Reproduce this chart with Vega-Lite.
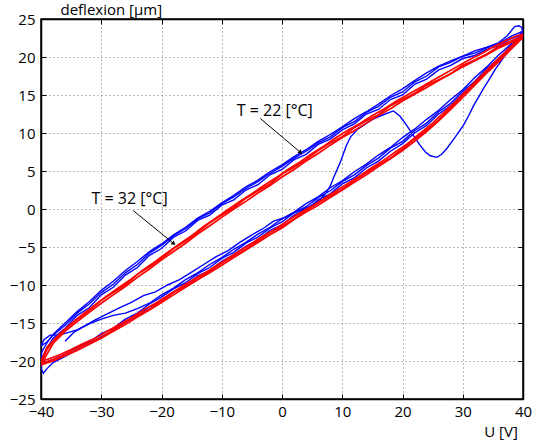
{
"$schema": "https://vega.github.io/schema/vega-lite/v6.json",
"width": 482, "height": 380,
"autosize": "none",
"padding": {"left": 41, "top": 19, "right": 13, "bottom": 47},
"background": "white",
"config": {
 "view": {"stroke": "black", "strokeWidth": 1.5},
 "font": "Open Sans",
 "axis": {"domainColor": "black", "domainWidth": 1.5, "tickColor": "black", "tickSize": -5, "tickWidth": 1,
  "labelFont": "Open Sans", "labelFontSize": 15, "labelColor": "black",
  "gridColor": "#777", "gridDash": [1, 3], "gridWidth": 1, "gridOpacity": 1,
  "titleFont": "Open Sans", "titleFontSize": 15, "titleFontWeight": "normal", "titleColor": "black"}
},
"datasets": {
"blue": [
{"t":"b1","x":-36,"y":-17.4},{"t":"b1","x":-34.5,"y":-16.2},{"t":"b1","x":-33,"y":-15.5},{"t":"b1","x":-31,"y":-14.6},{"t":"b1","x":-29,"y":-13.8},{"t":"b1","x":-27,"y":-13.0},{"t":"b1","x":-25,"y":-12.3},{"t":"b1","x":-23,"y":-11.4},{"t":"b1","x":-21,"y":-10.9},{"t":"b1","x":-19,"y":-10.0},{"t":"b1","x":-17,"y":-9.3},{"t":"b1","x":-15,"y":-8.3},{"t":"b1","x":-13,"y":-7.3},{"t":"b1","x":-11,"y":-6.3},{"t":"b1","x":-9,"y":-5.5},{"t":"b1","x":-7,"y":-4.4},{"t":"b1","x":-5,"y":-3.4},{"t":"b1","x":-3,"y":-2.5},{"t":"b1","x":-1.4,"y":-1.6},{"t":"b1","x":0.5,"y":-1.1},{"t":"b1","x":2,"y":-0.5},{"t":"b1","x":3.5,"y":-0.1},{"t":"b1","x":5,"y":0.5},{"t":"b1","x":6.3,"y":1.2},{"t":"b1","x":7.2,"y":2.0},{"t":"b1","x":8,"y":3.0},{"t":"b1","x":8.6,"y":4.2},{"t":"b1","x":9.1,"y":5.1},{"t":"b1","x":9.7,"y":6.2},{"t":"b1","x":10.2,"y":7.3},{"t":"b1","x":10.7,"y":8.4},{"t":"b1","x":11.4,"y":9.5},{"t":"b1","x":12.4,"y":10.4},{"t":"b1","x":13.5,"y":11.0},{"t":"b1","x":15,"y":11.8},{"t":"b1","x":16.8,"y":12.4},{"t":"b1","x":18.5,"y":12.9},{"t":"b1","x":19.6,"y":12.2},{"t":"b1","x":20.7,"y":11.0},{"t":"b1","x":21.8,"y":9.7},{"t":"b1","x":22.9,"y":8.4},{"t":"b1","x":23.8,"y":7.5},{"t":"b1","x":24.6,"y":7.0},{"t":"b1","x":25.7,"y":6.8},{"t":"b1","x":26.5,"y":7.2},{"t":"b1","x":27.3,"y":7.9},{"t":"b1","x":28.5,"y":9.2},{"t":"b1","x":29.4,"y":10.2},{"t":"b1","x":30.1,"y":11.0},{"t":"b1","x":31,"y":12.3},{"t":"b1","x":31.8,"y":13.6},{"t":"b1","x":32.6,"y":14.7},{"t":"b1","x":33.4,"y":15.8},{"t":"b1","x":34.5,"y":17.2},{"t":"b1","x":35.5,"y":18.5},{"t":"b1","x":36.4,"y":19.5},{"t":"b1","x":37.5,"y":20.8},{"t":"b1","x":38.6,"y":22.0},{"t":"b1","x":39.4,"y":22.8},{"t":"b1","x":39.9,"y":23.4},{"t":"b1","x":39.8,"y":23.9},{"t":"b1","x":39.3,"y":24.1},{"t":"b1","x":38.6,"y":24.0},{"t":"b1","x":38.1,"y":23.5},{"t":"b1","x":37.4,"y":22.8},{"t":"b1","x":36.6,"y":22.3},
{"t":"b1","x":36,"y":21.9},{"t":"b1","x":34,"y":21.3},{"t":"b1","x":32,"y":20.8},{"t":"b1","x":30,"y":20.1},{"t":"b1","x":28,"y":19.5},{"t":"b1","x":26,"y":18.8},{"t":"b1","x":24,"y":17.9},{"t":"b1","x":22,"y":16.9},{"t":"b1","x":20,"y":15.8},{"t":"b1","x":18,"y":14.9},{"t":"b1","x":16,"y":13.8},{"t":"b1","x":14,"y":12.8},{"t":"b1","x":12,"y":11.9},{"t":"b1","x":10,"y":10.8},{"t":"b1","x":8,"y":9.8},{"t":"b1","x":6,"y":8.9},{"t":"b1","x":4,"y":7.8},{"t":"b1","x":2,"y":6.9},{"t":"b1","x":0,"y":5.8},{"t":"b1","x":-2,"y":4.9},{"t":"b1","x":-4,"y":3.8},{"t":"b1","x":-6,"y":2.9},{"t":"b1","x":-8,"y":1.8},{"t":"b1","x":-10,"y":0.8},{"t":"b1","x":-12,"y":-0.3},{"t":"b1","x":-14,"y":-1.2},{"t":"b1","x":-16,"y":-2.4},{"t":"b1","x":-18,"y":-3.4},{"t":"b1","x":-20,"y":-4.6},{"t":"b1","x":-22,"y":-5.6},{"t":"b1","x":-24,"y":-6.9},{"t":"b1","x":-26,"y":-8.1},{"t":"b1","x":-28,"y":-9.5},{"t":"b1","x":-30,"y":-10.7},{"t":"b1","x":-32,"y":-12.2},{"t":"b1","x":-34,"y":-13.5},{"t":"b1","x":-36,"y":-15.0},{"t":"b1","x":-38,"y":-16.5},{"t":"b1","x":-39,"y":-17.6},{"t":"b1","x":-40,"y":-19.0},
{"t":"b1","x":-39.5,"y":-20.3},{"t":"b1","x":-38,"y":-19.8},{"t":"b1","x":-36,"y":-19.1},{"t":"b1","x":-34,"y":-18.2},{"t":"b1","x":-32,"y":-17.5},{"t":"b1","x":-30,"y":-16.4},{"t":"b1","x":-28,"y":-15.7},{"t":"b1","x":-26,"y":-14.5},{"t":"b1","x":-24,"y":-13.7},{"t":"b1","x":-22,"y":-12.5},{"t":"b1","x":-20,"y":-11.6},{"t":"b1","x":-18,"y":-10.5},{"t":"b1","x":-16,"y":-9.7},{"t":"b1","x":-14,"y":-8.5},{"t":"b1","x":-12,"y":-7.7},{"t":"b1","x":-10,"y":-6.5},{"t":"b1","x":-8,"y":-5.7},{"t":"b1","x":-6,"y":-4.5},{"t":"b1","x":-4,"y":-3.7},{"t":"b1","x":-2,"y":-2.5},{"t":"b1","x":0,"y":-1.7},{"t":"b1","x":2,"y":-0.5},{"t":"b1","x":4,"y":0.3},{"t":"b1","x":6,"y":1.5},{"t":"b1","x":8,"y":2.4},{"t":"b1","x":10,"y":3.6},{"t":"b1","x":12,"y":4.5},{"t":"b1","x":14,"y":5.7},{"t":"b1","x":16,"y":6.7},{"t":"b1","x":18,"y":8.0},{"t":"b1","x":20,"y":8.9},{"t":"b1","x":22,"y":10.3},{"t":"b1","x":24,"y":11.3},{"t":"b1","x":26,"y":12.8},{"t":"b1","x":28,"y":13.9},{"t":"b1","x":30,"y":15.5},{"t":"b1","x":32,"y":16.8},{"t":"b1","x":34,"y":18.5},{"t":"b1","x":36,"y":19.8},{"t":"b1","x":38,"y":21.5},{"t":"b1","x":40,"y":22.8},
{"t":"b2","x":40,"y":23.0},{"t":"b2","x":38,"y":22.4},{"t":"b2","x":36,"y":21.5},{"t":"b2","x":34,"y":21.0},{"t":"b2","x":32,"y":20.2},{"t":"b2","x":30,"y":19.8},{"t":"b2","x":28,"y":18.9},{"t":"b2","x":26,"y":18.3},{"t":"b2","x":24,"y":17.1},{"t":"b2","x":22,"y":16.4},{"t":"b2","x":20,"y":15.0},{"t":"b2","x":18,"y":14.4},{"t":"b2","x":16,"y":13.1},{"t":"b2","x":14,"y":12.5},{"t":"b2","x":12,"y":11.2},{"t":"b2","x":10,"y":10.4},{"t":"b2","x":8,"y":9.2},{"t":"b2","x":6,"y":8.5},{"t":"b2","x":4,"y":7.2},{"t":"b2","x":2,"y":6.5},{"t":"b2","x":0,"y":5.2},{"t":"b2","x":-2,"y":4.5},{"t":"b2","x":-4,"y":3.2},{"t":"b2","x":-6,"y":2.5},{"t":"b2","x":-8,"y":1.2},{"t":"b2","x":-10,"y":0.5},{"t":"b2","x":-12,"y":-0.8},{"t":"b2","x":-14,"y":-1.5},{"t":"b2","x":-16,"y":-2.9},{"t":"b2","x":-18,"y":-3.7},{"t":"b2","x":-20,"y":-5.2},{"t":"b2","x":-22,"y":-6.1},{"t":"b2","x":-24,"y":-7.7},{"t":"b2","x":-26,"y":-8.7},{"t":"b2","x":-28,"y":-10.3},{"t":"b2","x":-30,"y":-11.3},{"t":"b2","x":-32,"y":-13.0},{"t":"b2","x":-34,"y":-14.0},{"t":"b2","x":-36,"y":-15.7},{"t":"b2","x":-38,"y":-17.0},{"t":"b2","x":-39,"y":-18.3},{"t":"b2","x":-40,"y":-19.8},{"t":"b2","x":-40,"y":-21.0},{"t":"b2","x":-39.6,"y":-21.6},{"t":"b2","x":-39,"y":-21.0},
{"t":"b2","x":-38,"y":-20.2},{"t":"b2","x":-36,"y":-19.4},{"t":"b2","x":-34,"y":-18.5},{"t":"b2","x":-32,"y":-17.8},{"t":"b2","x":-30,"y":-16.8},{"t":"b2","x":-28,"y":-16.0},{"t":"b2","x":-26,"y":-14.9},{"t":"b2","x":-24,"y":-14.1},{"t":"b2","x":-22,"y":-12.9},{"t":"b2","x":-20,"y":-12.0},{"t":"b2","x":-18,"y":-10.9},{"t":"b2","x":-16,"y":-10.1},{"t":"b2","x":-14,"y":-8.8},{"t":"b2","x":-12,"y":-8.1},{"t":"b2","x":-10,"y":-6.9},{"t":"b2","x":-8,"y":-6.0},{"t":"b2","x":-6,"y":-4.9},{"t":"b2","x":-4,"y":-4.1},{"t":"b2","x":-2,"y":-2.8},{"t":"b2","x":0,"y":-2.1},{"t":"b2","x":2,"y":-0.8},{"t":"b2","x":4,"y":-0.1},{"t":"b2","x":6,"y":1.2},{"t":"b2","x":8,"y":2.0},{"t":"b2","x":10,"y":3.3},{"t":"b2","x":12,"y":4.1},{"t":"b2","x":14,"y":5.4},{"t":"b2","x":16,"y":6.3},{"t":"b2","x":18,"y":7.6},{"t":"b2","x":20,"y":8.6},{"t":"b2","x":22,"y":10.0},{"t":"b2","x":24,"y":11.0},{"t":"b2","x":26,"y":12.5},{"t":"b2","x":28,"y":13.6},{"t":"b2","x":30,"y":15.2},{"t":"b2","x":32,"y":16.5},{"t":"b2","x":34,"y":18.2},{"t":"b2","x":36,"y":19.5},{"t":"b2","x":38,"y":21.2},{"t":"b2","x":40,"y":22.6},
{"t":"b3","x":40,"y":23.4},{"t":"b3","x":38,"y":22.7},{"t":"b3","x":36,"y":21.8},{"t":"b3","x":34,"y":21.2},{"t":"b3","x":32,"y":20.5},{"t":"b3","x":30,"y":20.1},{"t":"b3","x":28,"y":19.3},{"t":"b3","x":26,"y":18.7},{"t":"b3","x":24,"y":17.5},{"t":"b3","x":22,"y":16.7},{"t":"b3","x":20,"y":15.4},{"t":"b3","x":18,"y":14.7},{"t":"b3","x":16,"y":13.5},{"t":"b3","x":14,"y":12.7},{"t":"b3","x":12,"y":11.5},{"t":"b3","x":10,"y":10.7},{"t":"b3","x":8,"y":9.5},{"t":"b3","x":6,"y":8.7},{"t":"b3","x":4,"y":7.6},{"t":"b3","x":2,"y":6.7},{"t":"b3","x":0,"y":5.6},{"t":"b3","x":-2,"y":4.7},{"t":"b3","x":-4,"y":3.6},{"t":"b3","x":-6,"y":2.7},{"t":"b3","x":-8,"y":1.6},{"t":"b3","x":-10,"y":0.7},{"t":"b3","x":-12,"y":-0.5},{"t":"b3","x":-14,"y":-1.3},{"t":"b3","x":-16,"y":-2.6},{"t":"b3","x":-18,"y":-3.5},{"t":"b3","x":-20,"y":-4.8},{"t":"b3","x":-22,"y":-5.8},{"t":"b3","x":-24,"y":-7.3},{"t":"b3","x":-26,"y":-8.4},{"t":"b3","x":-28,"y":-9.9},{"t":"b3","x":-30,"y":-11.0},{"t":"b3","x":-32,"y":-12.5},{"t":"b3","x":-34,"y":-13.7},{"t":"b3","x":-36,"y":-15.3},{"t":"b3","x":-38,"y":-16.6},{"t":"b3","x":-39,"y":-17.5},{"t":"b3","x":-40,"y":-18.0},
{"t":"b3","x":-39.5,"y":-17.2},{"t":"b3","x":-38.5,"y":-16.6},{"t":"b3","x":-37,"y":-16.6},{"t":"b3","x":-35.7,"y":-16.3},{"t":"b3","x":-34,"y":-15.9},{"t":"b3","x":-32,"y":-15.1},{"t":"b3","x":-30,"y":-14.5},{"t":"b3","x":-28,"y":-14.0},{"t":"b3","x":-26,"y":-13.7},{"t":"b3","x":-24,"y":-13.1},{"t":"b3","x":-22,"y":-12.4},{"t":"b3","x":-20,"y":-11.3},{"t":"b3","x":-18,"y":-10.4},{"t":"b3","x":-16,"y":-9.3},{"t":"b3","x":-14,"y":-8.4},{"t":"b3","x":-12,"y":-7.3},{"t":"b3","x":-10,"y":-6.4},{"t":"b3","x":-8,"y":-5.3},{"t":"b3","x":-6,"y":-4.4},{"t":"b3","x":-4,"y":-3.3},{"t":"b3","x":-2,"y":-2.4},{"t":"b3","x":0,"y":-1.3},{"t":"b3","x":2,"y":-0.4},{"t":"b3","x":4,"y":0.7},{"t":"b3","x":6,"y":1.6},{"t":"b3","x":8,"y":2.8},{"t":"b3","x":10,"y":3.7},{"t":"b3","x":12,"y":4.9},{"t":"b3","x":14,"y":5.9},{"t":"b3","x":16,"y":7.1},{"t":"b3","x":18,"y":8.1},{"t":"b3","x":20,"y":9.4},{"t":"b3","x":22,"y":10.5},{"t":"b3","x":24,"y":11.8},{"t":"b3","x":26,"y":13.0},{"t":"b3","x":28,"y":14.4},{"t":"b3","x":30,"y":15.7},{"t":"b3","x":32,"y":17.3},{"t":"b3","x":34,"y":18.7},{"t":"b3","x":36,"y":20.3},{"t":"b3","x":38,"y":21.7},{"t":"b3","x":40,"y":23.2}
],
"red": [
{"t":"r1","x":40,"y":22.8},{"t":"r1","x":38,"y":22.1},{"t":"r1","x":36,"y":21.4},{"t":"r1","x":34,"y":20.4},{"t":"r1","x":32,"y":19.6},{"t":"r1","x":30,"y":18.9},{"t":"r1","x":28,"y":17.8},{"t":"r1","x":26,"y":17.0},{"t":"r1","x":24,"y":16.3},{"t":"r1","x":22,"y":15.2},{"t":"r1","x":20,"y":14.4},{"t":"r1","x":18,"y":13.6},{"t":"r1","x":16,"y":12.4},{"t":"r1","x":14,"y":11.6},{"t":"r1","x":12,"y":10.7},{"t":"r1","x":10,"y":9.5},{"t":"r1","x":8,"y":8.7},{"t":"r1","x":6,"y":7.7},{"t":"r1","x":4,"y":6.5},{"t":"r1","x":2,"y":5.5},{"t":"r1","x":0,"y":4.6},{"t":"r1","x":-2,"y":3.3},{"t":"r1","x":-4,"y":2.4},{"t":"r1","x":-6,"y":1.4},{"t":"r1","x":-8,"y":0.2},{"t":"r1","x":-10,"y":-0.8},{"t":"r1","x":-12,"y":-1.8},{"t":"r1","x":-14,"y":-3.1},{"t":"r1","x":-16,"y":-4.2},{"t":"r1","x":-18,"y":-5.2},{"t":"r1","x":-20,"y":-6.5},{"t":"r1","x":-22,"y":-7.6},{"t":"r1","x":-24,"y":-8.6},{"t":"r1","x":-26,"y":-10.0},{"t":"r1","x":-28,"y":-11.0},{"t":"r1","x":-30,"y":-12.0},{"t":"r1","x":-32,"y":-13.4},{"t":"r1","x":-34,"y":-14.5},{"t":"r1","x":-36,"y":-15.8},{"t":"r1","x":-38,"y":-17.4},{"t":"r1","x":-39,"y":-18.5},{"t":"r1","x":-40,"y":-20.3},
{"t":"r1","x":-38,"y":-19.8},{"t":"r1","x":-36,"y":-19.1},{"t":"r1","x":-34,"y":-18.3},{"t":"r1","x":-32,"y":-17.6},{"t":"r1","x":-30,"y":-16.9},{"t":"r1","x":-28,"y":-15.9},{"t":"r1","x":-26,"y":-14.9},{"t":"r1","x":-24,"y":-14.0},{"t":"r1","x":-22,"y":-13.2},{"t":"r1","x":-20,"y":-12.1},{"t":"r1","x":-18,"y":-11.0},{"t":"r1","x":-16,"y":-10.1},{"t":"r1","x":-14,"y":-9.2},{"t":"r1","x":-12,"y":-8.2},{"t":"r1","x":-10,"y":-7.1},{"t":"r1","x":-8,"y":-6.2},{"t":"r1","x":-6,"y":-5.3},{"t":"r1","x":-4,"y":-4.2},{"t":"r1","x":-2,"y":-3.1},{"t":"r1","x":0,"y":-2.3},{"t":"r1","x":2,"y":-1.3},{"t":"r1","x":4,"y":-0.2},{"t":"r1","x":6,"y":0.8},{"t":"r1","x":8,"y":1.7},{"t":"r1","x":10,"y":2.6},{"t":"r1","x":12,"y":3.7},{"t":"r1","x":14,"y":4.8},{"t":"r1","x":16,"y":5.8},{"t":"r1","x":18,"y":6.7},{"t":"r1","x":20,"y":7.9},{"t":"r1","x":22,"y":9.2},{"t":"r1","x":24,"y":10.4},{"t":"r1","x":26,"y":11.7},{"t":"r1","x":28,"y":13.3},{"t":"r1","x":30,"y":15.0},{"t":"r1","x":32,"y":16.5},{"t":"r1","x":34,"y":18.0},{"t":"r1","x":36,"y":19.6},{"t":"r1","x":38,"y":21.3},{"t":"r1","x":40,"y":22.8},
{"t":"r2","x":40,"y":23.0},{"t":"r2","x":39,"y":22.8},{"t":"r2","x":37,"y":22.1},{"t":"r2","x":35,"y":21.3},{"t":"r2","x":33,"y":20.4},{"t":"r2","x":31,"y":19.6},{"t":"r2","x":29,"y":18.7},{"t":"r2","x":27,"y":17.8},{"t":"r2","x":25,"y":16.9},{"t":"r2","x":23,"y":16.0},{"t":"r2","x":21,"y":15.1},{"t":"r2","x":19,"y":14.2},{"t":"r2","x":17,"y":13.2},{"t":"r2","x":15,"y":12.3},{"t":"r2","x":13,"y":11.3},{"t":"r2","x":11,"y":10.4},{"t":"r2","x":9,"y":9.4},{"t":"r2","x":7,"y":8.3},{"t":"r2","x":5,"y":7.3},{"t":"r2","x":3,"y":6.2},{"t":"r2","x":1,"y":5.2},{"t":"r2","x":-1,"y":4.1},{"t":"r2","x":-3,"y":3.1},{"t":"r2","x":-5,"y":2.0},{"t":"r2","x":-7,"y":1.0},{"t":"r2","x":-9,"y":-0.1},{"t":"r2","x":-11,"y":-1.2},{"t":"r2","x":-13,"y":-2.3},{"t":"r2","x":-15,"y":-3.5},{"t":"r2","x":-17,"y":-4.6},{"t":"r2","x":-19,"y":-5.7},{"t":"r2","x":-21,"y":-6.9},{"t":"r2","x":-23,"y":-8.0},{"t":"r2","x":-25,"y":-9.2},{"t":"r2","x":-27,"y":-10.3},{"t":"r2","x":-29,"y":-11.4},{"t":"r2","x":-31,"y":-12.6},{"t":"r2","x":-33,"y":-13.8},{"t":"r2","x":-35,"y":-15.1},{"t":"r2","x":-37,"y":-16.5},{"t":"r2","x":-39,"y":-18.2},{"t":"r2","x":-40,"y":-20.0},
{"t":"r2","x":-39,"y":-19.8},{"t":"r2","x":-37,"y":-19.2},{"t":"r2","x":-35,"y":-18.5},{"t":"r2","x":-33,"y":-17.7},{"t":"r2","x":-31,"y":-17.0},{"t":"r2","x":-29,"y":-16.1},{"t":"r2","x":-27,"y":-15.2},{"t":"r2","x":-25,"y":-14.3},{"t":"r2","x":-23,"y":-13.3},{"t":"r2","x":-21,"y":-12.4},{"t":"r2","x":-19,"y":-11.4},{"t":"r2","x":-17,"y":-10.4},{"t":"r2","x":-15,"y":-9.4},{"t":"r2","x":-13,"y":-8.5},{"t":"r2","x":-11,"y":-7.5},{"t":"r2","x":-9,"y":-6.5},{"t":"r2","x":-7,"y":-5.5},{"t":"r2","x":-5,"y":-4.5},{"t":"r2","x":-3,"y":-3.5},{"t":"r2","x":-1,"y":-2.6},{"t":"r2","x":1,"y":-1.5},{"t":"r2","x":3,"y":-0.5},{"t":"r2","x":5,"y":0.4},{"t":"r2","x":7,"y":1.4},{"t":"r2","x":9,"y":2.4},{"t":"r2","x":11,"y":3.4},{"t":"r2","x":13,"y":4.4},{"t":"r2","x":15,"y":5.5},{"t":"r2","x":17,"y":6.5},{"t":"r2","x":19,"y":7.6},{"t":"r2","x":21,"y":8.7},{"t":"r2","x":23,"y":10.0},{"t":"r2","x":25,"y":11.3},{"t":"r2","x":27,"y":12.8},{"t":"r2","x":29,"y":14.3},{"t":"r2","x":31,"y":15.9},{"t":"r2","x":33,"y":17.5},{"t":"r2","x":35,"y":19.1},{"t":"r2","x":37,"y":20.6},{"t":"r2","x":39,"y":22.2},{"t":"r2","x":40,"y":22.9},
{"t":"r3","x":40,"y":22.5},{"t":"r3","x":38,"y":21.9},{"t":"r3","x":36,"y":21.2},{"t":"r3","x":34,"y":20.3},{"t":"r3","x":32,"y":19.5},{"t":"r3","x":30,"y":18.7},{"t":"r3","x":28,"y":17.8},{"t":"r3","x":26,"y":16.9},{"t":"r3","x":24,"y":16.0},{"t":"r3","x":22,"y":15.1},{"t":"r3","x":20,"y":14.2},{"t":"r3","x":18,"y":13.2},{"t":"r3","x":16,"y":12.3},{"t":"r3","x":14,"y":11.3},{"t":"r3","x":12,"y":10.3},{"t":"r3","x":10,"y":9.4},{"t":"r3","x":8,"y":8.4},{"t":"r3","x":6,"y":7.3},{"t":"r3","x":4,"y":6.3},{"t":"r3","x":2,"y":5.2},{"t":"r3","x":0,"y":4.2},{"t":"r3","x":-2,"y":3.1},{"t":"r3","x":-4,"y":2.1},{"t":"r3","x":-6,"y":1.0},{"t":"r3","x":-8,"y":0.0},{"t":"r3","x":-10,"y":-1.1},{"t":"r3","x":-12,"y":-2.2},{"t":"r3","x":-14,"y":-3.3},{"t":"r3","x":-16,"y":-4.5},{"t":"r3","x":-18,"y":-5.6},{"t":"r3","x":-20,"y":-6.7},{"t":"r3","x":-22,"y":-7.9},{"t":"r3","x":-24,"y":-9.0},{"t":"r3","x":-26,"y":-10.2},{"t":"r3","x":-28,"y":-11.3},{"t":"r3","x":-30,"y":-12.4},{"t":"r3","x":-32,"y":-13.6},{"t":"r3","x":-34,"y":-14.8},{"t":"r3","x":-36,"y":-16.1},{"t":"r3","x":-38,"y":-17.7},{"t":"r3","x":-40,"y":-20.5},
{"t":"r3","x":-38,"y":-20.0},{"t":"r3","x":-36,"y":-19.3},{"t":"r3","x":-34,"y":-18.6},{"t":"r3","x":-32,"y":-17.8},{"t":"r3","x":-30,"y":-17.0},{"t":"r3","x":-28,"y":-16.1},{"t":"r3","x":-26,"y":-15.2},{"t":"r3","x":-24,"y":-14.2},{"t":"r3","x":-22,"y":-13.3},{"t":"r3","x":-20,"y":-12.3},{"t":"r3","x":-18,"y":-11.3},{"t":"r3","x":-16,"y":-10.3},{"t":"r3","x":-14,"y":-9.3},{"t":"r3","x":-12,"y":-8.4},{"t":"r3","x":-10,"y":-7.4},{"t":"r3","x":-8,"y":-6.4},{"t":"r3","x":-6,"y":-5.4},{"t":"r3","x":-4,"y":-4.4},{"t":"r3","x":-2,"y":-3.4},{"t":"r3","x":0,"y":-2.5},{"t":"r3","x":2,"y":-1.4},{"t":"r3","x":4,"y":-0.4},{"t":"r3","x":6,"y":0.5},{"t":"r3","x":8,"y":1.5},{"t":"r3","x":10,"y":2.5},{"t":"r3","x":12,"y":3.5},{"t":"r3","x":14,"y":4.5},{"t":"r3","x":16,"y":5.6},{"t":"r3","x":18,"y":6.6},{"t":"r3","x":20,"y":7.7},{"t":"r3","x":22,"y":8.9},{"t":"r3","x":24,"y":10.2},{"t":"r3","x":26,"y":11.6},{"t":"r3","x":28,"y":13.1},{"t":"r3","x":30,"y":14.7},{"t":"r3","x":32,"y":16.3},{"t":"r3","x":34,"y":17.9},{"t":"r3","x":36,"y":19.4},{"t":"r3","x":38,"y":21.0},{"t":"r3","x":40,"y":22.6}
],
"notes": [
{"label":"T = 22 [°C]","tx":-1.2,"ty":12.2,"ax":-3.6,"ay":11.9,"bx":3.0,"by":7.5},
{"label":"T = 32 [°C]","tx":-25.3,"ty":0.7,"ax":-24.7,"ay":-0.2,"bx":-18.05,"by":-4.5}
]
},
"resolve": {"axis": {"x": "independent", "y": "independent"}},
"layer": [
{"data": {"name": "blue"},
 "mark": {"type": "line", "color": "#0000ff", "strokeWidth": 1.4, "clip": true},
 "encoding": {
  "x": {"field": "x", "type": "quantitative", "scale": {"domain": [-40, 40], "nice": false, "zero": false},
   "axis": {"orient": "bottom", "values": [-40,-30,-20,-10,0,10,20,30,40], "grid": true, "labelPadding": 10, "labelFlush": false,
    "title": "U [V]", "titleX": 459.5, "titleY": 37, "titleAlign": "center", "titleBaseline": "alphabetic"}},
  "y": {"field": "y", "type": "quantitative", "scale": {"domain": [-25, 25], "nice": false, "zero": false},
   "axis": {"orient": "left", "values": [-25,-20,-15,-10,-5,0,5,10,15,20,25], "grid": true, "labelPadding": 11, "labelFlush": false,
    "title": "deflexion [µm]", "titleAngle": 0, "titleX": 69.8, "titleY": -5, "titleAlign": "center", "titleBaseline": "alphabetic"}},
  "detail": {"field": "t"},
  "order": {"value": null}
 }},
{"data": {"name": "red"},
 "mark": {"type": "line", "color": "#ff0000", "strokeWidth": 1.7, "clip": true},
 "encoding": {
  "x": {"field": "x", "type": "quantitative", "scale": {"domain": [-40, 40], "nice": false, "zero": false},
   "axis": {"orient": "top", "values": [-40,-30,-20,-10,0,10,20,30,40], "grid": false, "labels": false, "title": null}},
  "y": {"field": "y", "type": "quantitative", "scale": {"domain": [-25, 25], "nice": false, "zero": false},
   "axis": {"orient": "right", "values": [-25,-20,-15,-10,-5,0,5,10,15,20,25], "grid": false, "labels": false, "title": null}},
  "detail": {"field": "t"},
  "order": {"value": null}
 }},
{"data": {"name": "notes"},
 "mark": {"type": "rule", "color": "black", "strokeWidth": 1},
 "encoding": {
  "x": {"field": "ax", "type": "quantitative", "scale": {"domain": [-40, 40], "nice": false, "zero": false}, "axis": null},
  "y": {"field": "ay", "type": "quantitative", "scale": {"domain": [-25, 25], "nice": false, "zero": false}, "axis": null},
  "x2": {"field": "bx"}, "y2": {"field": "by"}
 }},
{"data": {"name": "notes"},
 "mark": {"type": "point", "shape": "triangle", "filled": true, "color": "black", "size": 22, "angle": 130, "opacity": 1},
 "encoding": {
  "x": {"field": "bx", "type": "quantitative", "scale": {"domain": [-40, 40], "nice": false, "zero": false}, "axis": null},
  "y": {"field": "by", "type": "quantitative", "scale": {"domain": [-25, 25], "nice": false, "zero": false}, "axis": null}
 }},
{"data": {"name": "notes"},
 "mark": {"type": "text", "font": "Open Sans", "fontSize": 16, "color": "black", "align": "center", "baseline": "alphabetic"},
 "encoding": {
  "x": {"field": "tx", "type": "quantitative", "scale": {"domain": [-40, 40], "nice": false, "zero": false}, "axis": null},
  "y": {"field": "ty", "type": "quantitative", "scale": {"domain": [-25, 25], "nice": false, "zero": false}, "axis": null},
  "text": {"field": "label"}
 }}
]
}
